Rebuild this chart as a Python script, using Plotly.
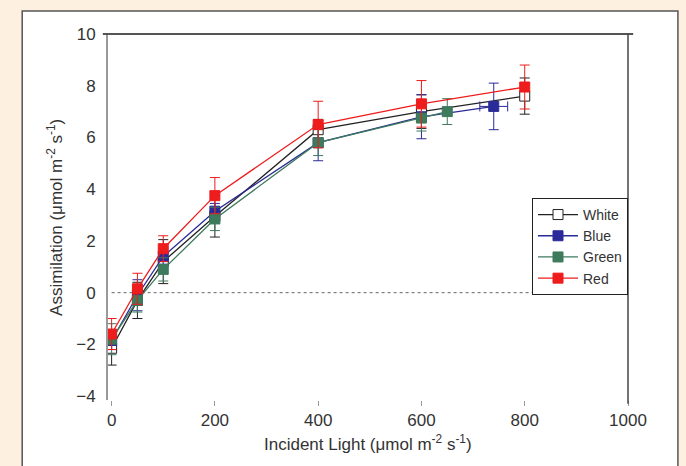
import plotly.graph_objects as go

# ---- data ----
white_x = [0, 50, 100, 200, 400, 600, 800]
white_y = [-2.15, -0.3, 1.2, 2.95, 6.3, 7.0, 7.6]
white_err = [0.65, 0.7, 0.85, 0.8, 0.4, 0.65, 0.7]

blue_x = [0, 50, 100, 200, 400, 600, 740]
blue_y = [-1.85, -0.1, 1.4, 3.15, 5.8, 6.8, 7.2]
blue_err = [0.35, 0.6, 0.3, 0.3, 0.7, 0.85, 0.9]
blue_xerr = [0, 0, 0, 0, 0, 0, 27]

green_x = [0, 50, 100, 200, 400, 600, 650]
green_y = [-1.8, -0.3, 0.9, 2.85, 5.8, 6.75, 7.0]
green_err = [0.6, 0.45, 0.45, 0.45, 0.5, 0.5, 0.5]

red_x = [0, 50, 100, 200, 400, 600, 800]
red_y = [-1.6, 0.15, 1.7, 3.75, 6.5, 7.3, 7.95]
red_err = [0.6, 0.6, 0.5, 0.7, 0.9, 0.9, 0.85]

x_ticks = [0, 200, 400, 600, 800, 1000]
y_ticks = [-4, -2, 0, 2, 4, 6, 8, 10]

FONT = "Liberation Sans, Arial, sans-serif"

fig = go.Figure()

def add(name, x, y, err, color, fill, xerr=None):
    kw = {}
    if xerr is not None:
        kw["error_x"] = dict(type="data", array=xerr, color=color, thickness=1, width=5)
    fig.add_trace(go.Scatter(
        x=x, y=y, name=name, mode="lines+markers",
        line=dict(color=color, width=1.3),
        marker=dict(symbol="square", size=10, color=fill, line=dict(color=color, width=1)),
        error_y=dict(type="data", array=err, color=color, thickness=1, width=5),
        **kw))

add("White", white_x, white_y, white_err, "#222222", "white")
add("Blue", blue_x, blue_y, blue_err, "#2a2a98", "#2a2a98", blue_xerr)
add("Green", green_x, green_y, green_err, "#3e7a5c", "#3e7a5c")
add("Red", red_x, red_y, red_err, "#ee1c1c", "#ee1c1c")

# background panel
fig.add_shape(type="rect", xref="paper", yref="paper", x0=-0.165, x1=1.096, y0=-0.2, y1=1.063,
              fillcolor="white", line=dict(color="#555555", width=1.5), layer="below")
# top frame line and right frame line
fig.add_shape(type="line", xref="paper", yref="paper", x0=-0.01, x1=1.01, y0=1, y1=1,
              line=dict(color="#555555", width=2))
fig.add_shape(type="line", xref="paper", yref="paper", x0=1, x1=1, y0=-0.01, y1=1,
              line=dict(color="#444444", width=1.5))
# zero dotted line
fig.add_shape(type="line", xref="x", yref="y", x0=0, x1=1000, y0=0, y1=0,
              line=dict(color="#666666", width=1, dash="dot"), layer="below")

axis_font = dict(family=FONT, size=17, color="#333333")

fig.add_annotation(text="Incident Light (μmol m<sup>-2</sup> s<sup>-1</sup>)",
                   xref="paper", yref="paper", x=0.5, y=-0.118, xanchor="center", yanchor="middle",
                   showarrow=False, font=dict(family=FONT, size=17, color="#333333"))
fig.add_annotation(text="Assimilation (μmol m<sup>-2</sup> s<sup>-1</sup>)",
                   xref="paper", yref="paper", x=-0.102, y=0.5, xanchor="center", yanchor="middle",
                   textangle=-90, showarrow=False, font=dict(family=FONT, size=17, color="#333333"))

fig.update_layout(
    width=686, height=466,
    margin=dict(l=108, r=58, t=34, b=66, autoexpand=False),
    paper_bgcolor="#fdf0e1",
    plot_bgcolor="white",
    showlegend=True,
    hovermode=False,
    legend=dict(x=1, xanchor="right", y=0.287, yanchor="bottom",
                bordercolor="#222222", borderwidth=1, bgcolor="white",
                font=dict(family=FONT, size=14, color="#333333"),
                tracegroupgap=0, itemwidth=40),
    xaxis=dict(range=[-7, 1000], tickvals=x_ticks, showgrid=False, zeroline=False,
               showline=False, ticks="outside", ticklen=5, tickcolor="#999999",
               tickfont=axis_font, automargin=False),
    yaxis=dict(range=[-4.15, 10], tickvals=y_ticks, showgrid=False, zeroline=False,
               showline=True, linecolor="#999999", linewidth=2, ticks="outside", ticklen=7,
               tickcolor="rgba(0,0,0,0)",
               tickfont=axis_font, automargin=False),
    yaxis2=dict(range=[-4.15, 10], tickvals=y_ticks, overlaying="y", side="right",
                showgrid=False, zeroline=False, showline=False, ticks="outside",
                ticklen=5, tickcolor="#444444", showticklabels=False, automargin=False),
)

fig.write_html("out.html", config={"displayModeBar": False},
               post_script="document.body.style.margin='0';")
